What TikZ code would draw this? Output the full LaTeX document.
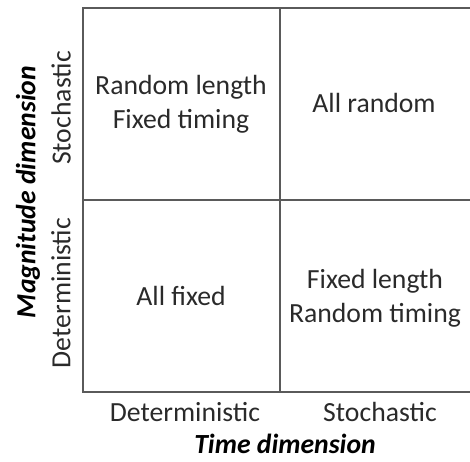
\documentclass[tikz,border=0pt]{standalone}
\usepackage{fontspec}
\setmainfont{Carlito}
\definecolor{gridc}{HTML}{5A5A5A}
\definecolor{txt}{HTML}{2A2A2A}
\begin{document}
\begin{tikzpicture}[x=1bp,y=-1bp,
  lbl/.style={font=\fontsize{27.8}{34}\selectfont, text=txt, align=center, inner sep=0pt},
  axl/.style={font=\fontsize{27.8}{30}\selectfont\bfseries\itshape, text=black, inner sep=0pt},
  gridline/.style={draw=gridc, line width=1.8bp}]
\useasboundingbox (0,0) rectangle (470,462);
\coordinate (tl) at (83,8);
\coordinate (tm) at (280,8);
\coordinate (tr) at (472,8);
\coordinate (ml) at (83,200);
\coordinate (mr) at (472,200);
\coordinate (bl) at (83,392);
\coordinate (bm) at (280,392);
\coordinate (br) at (472,392);
\draw[gridline] (tr) -- (tl) -- (bl) -- (br);
\draw[gridline] (tm) -- (bm);
\draw[gridline] (ml) -- (mr);
\node[lbl] (q1) at (181,104) {Random length\\Fixed timing};
\node[lbl] (q2) at (374,103) {All random};
\node[lbl] (q3) at (181,296) {All fixed};
\node[lbl] (q4) at (375,298) {Fixed length\\Random timing};
\node[lbl] (xd) at (185,412) {Deterministic};
\node[lbl] (xs) at (380,412) {Stochastic};
\node[axl] (xt) at (285,444) {Time dimension};
\node[lbl, rotate=90] (ys) at (61,108) {Stochastic};
\node[lbl, rotate=90] (yd) at (61,293) {Deterministic};
\node[axl, rotate=90] (ym) at (28,192) {Magnitude dimension};
\end{tikzpicture}
\end{document}
